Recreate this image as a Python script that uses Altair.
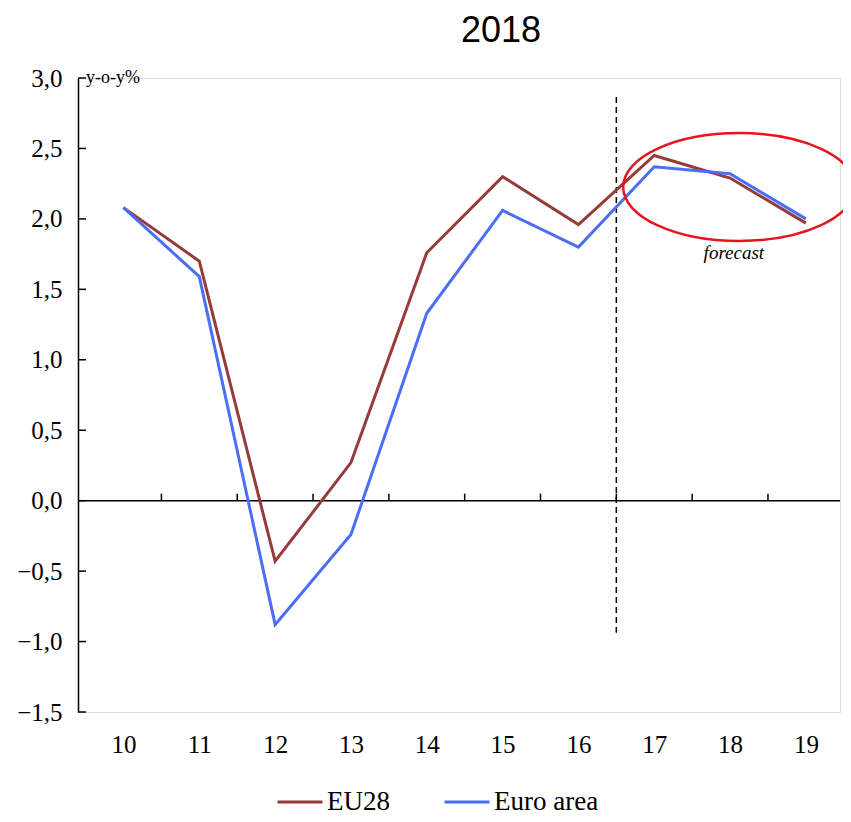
import altair as alt
import pandas as pd

years = [10, 11, 12, 13, 14, 15, 16, 17, 18, 19]
eu28 = [2.08, 1.70, -0.43, 0.27, 1.76, 2.30, 1.96, 2.45, 2.29, 1.97]
euro_area = [2.08, 1.59, -0.88, -0.24, 1.33, 2.06, 1.80, 2.37, 2.32, 2.00]
series_names = ["EU28", "Euro area"]
series_colors = ["#963A3A", "#4A6EF5"]
y_ticks = [-1.5, -1.0, -0.5, 0.0, 0.5, 1.0, 1.5, 2.0, 2.5, 3.0]
boundaries = [10.5, 11.5, 12.5, 13.5, 14.5, 15.5, 16.5, 17.5, 18.5]
forecast_start = 16.5

X_MIN, X_MAX = 9.4, 19.45
Y_MIN, Y_MAX = -1.5, 3.0
SERIF = "Liberation Serif"

rows = []
for yr, a, b in zip(years, eu28, euro_area):
    rows.append({"year": yr, "series": "EU28", "value": a})
    rows.append({"year": yr, "series": "Euro area", "value": b})
df = pd.DataFrame(rows)

xs = alt.Scale(domain=[X_MIN, X_MAX], nice=False, zero=False)
ys = alt.Scale(domain=[Y_MIN, Y_MAX], nice=False, zero=False)

lines = alt.Chart(df).mark_line(strokeWidth=3).encode(
    x=alt.X("year:Q", scale=xs,
            axis=alt.Axis(values=years, format="d", domain=False, ticks=False, grid=False,
                          labelFont=SERIF, labelFontSize=25, labelColor="black",
                          labelPadding=20, title=None)),
    y=alt.Y("value:Q", scale=ys,
            axis=alt.Axis(values=y_ticks, format=".1f",
                          labelExpr="replace(datum.label, '.', ',')",
                          domain=True, domainColor="black", domainWidth=1.5,
                          ticks=False, grid=False, labelFont=SERIF, labelFontSize=25,
                          labelColor="black", labelPadding=16, title=None)),
    color=alt.Color("series:N",
                    scale=alt.Scale(domain=series_names, range=series_colors),
                    legend=alt.Legend(orient="none", legendX=198, legendY=700,
                                      direction="horizontal", title=None,
                                      symbolType="stroke", symbolSize=2025,
                                      symbolStrokeWidth=3, labelFont=SERIF,
                                      labelFontSize=27, labelColor="black",
                                      columnPadding=48, labelOffset=3)),
    order="year:Q",
)

zero_line = alt.Chart(pd.DataFrame({"v": [0.0]})).mark_rule(color="black", strokeWidth=1.5).encode(
    y=alt.Y("v:Q", scale=ys),
    x=alt.datum(X_MIN, scale=xs),
    x2=alt.datum(X_MAX),
)

bticks = alt.Chart(pd.DataFrame({"b": boundaries, "v": [0.0] * len(boundaries)})).mark_rule(
    color="black", strokeWidth=1.5, y2Offset=-7).encode(
    x=alt.X("b:Q", scale=xs),
    y=alt.Y("v:Q", scale=ys),
    y2="v:Q",
)

yticks = alt.Chart(pd.DataFrame({"t": y_ticks})).mark_rule(
    color="black", strokeWidth=1.5, x2Offset=8).encode(
    y=alt.Y("t:Q", scale=ys),
    x=alt.datum(X_MIN, scale=xs),
    x2=alt.datum(X_MIN),
)

dashed = alt.Chart(pd.DataFrame({"x": [forecast_start], "y1": [2.865], "y2": [-0.937]})).mark_rule(
    color="black", strokeWidth=1.5, strokeDash=[6, 4]).encode(
    x=alt.X("x:Q", scale=xs),
    y=alt.Y("y1:Q", scale=ys),
    y2="y2:Q",
)

ellipse_path = "M -1 0 A 1 0.465 0 1 0 1 0 A 1 0.465 0 1 0 -1 0 Z"
ellipse = alt.Chart(pd.DataFrame({"x": [18.12], "y": [2.226]})).mark_point(
    shape=ellipse_path, size=53800, filled=False, stroke="#E8141C", strokeWidth=2.5, opacity=1).encode(
    x=alt.X("x:Q", scale=xs),
    y=alt.Y("y:Q", scale=ys),
)

forecast_txt = alt.Chart(pd.DataFrame({"x": [18.05], "y": [1.758], "t": ["forecast"]})).mark_text(
    font=SERIF, fontSize=19, fontStyle="italic", color="black", align="center", baseline="middle").encode(
    x=alt.X("x:Q", scale=xs), y=alt.Y("y:Q", scale=ys), text="t:N")

unit_txt = alt.Chart(pd.DataFrame({"x": [X_MIN], "y": [Y_MAX], "t": ["y-o-y%"]})).mark_text(
    font=SERIF, fontSize=18, color="black", align="left", baseline="middle", dx=8).encode(
    x=alt.X("x:Q", scale=xs), y=alt.Y("y:Q", scale=ys), text="t:N")

chart = alt.layer(
    zero_line, bticks, yticks, dashed, lines, ellipse, forecast_txt, unit_txt
).properties(
    width=762, height=634,
    title=alt.Title("2018", font="Liberation Sans", fontSize=36, fontWeight="normal",
                    color="black", anchor="middle", dx=42, offset=16),
    autosize=alt.AutoSizeParams(type="none"),
    padding={"left": 70, "top": 70, "right": 3, "bottom": 106},
).configure_view(stroke=None).configure(background="white")

chart.save("out.html", embed_options={"renderer": "svg", "actions": False})
